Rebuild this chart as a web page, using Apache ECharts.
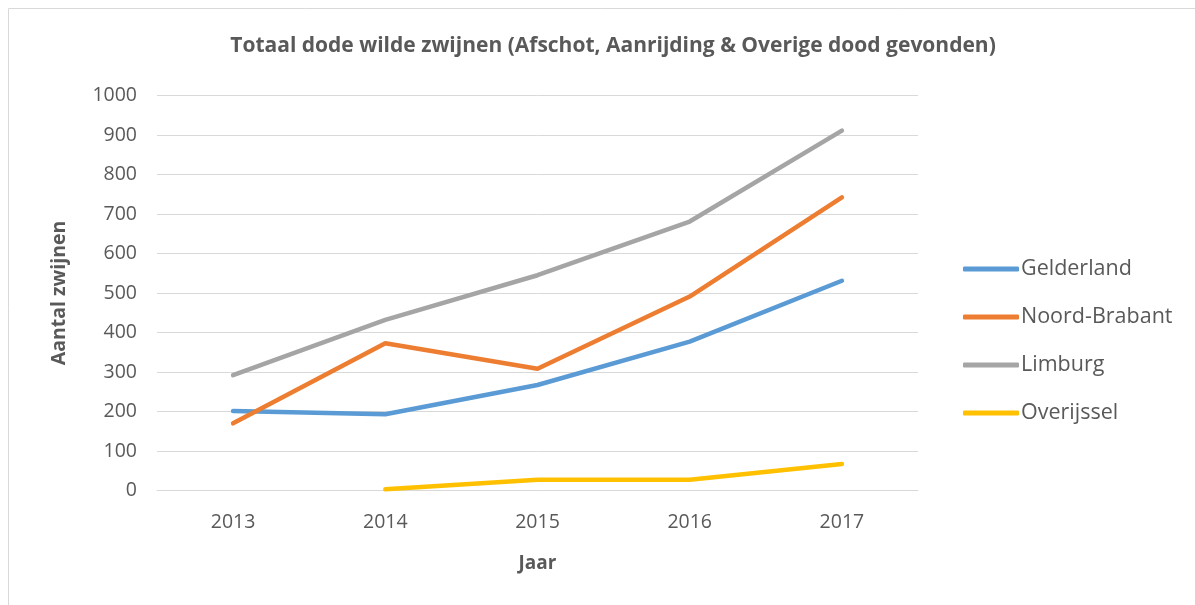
<!DOCTYPE html>
<html>
<head>
<meta charset="utf-8">
<script src="https://cdn.jsdelivr.net/npm/echarts@6/dist/echarts.min.js"></script>
<style>html,body{margin:0;padding:0;background:#fff;}#c{width:1195px;height:605px;}</style>
</head>
<body>
<div id="c"></div>
<script>
const years = ['2013', '2014', '2015', '2016', '2017'];
const gelderland = [201, 193, 267, 377, 531];
const noordBrabant = [170, 373, 308, 491, 742];
const limburg = [292, 432, 545, 681, 911];
const overijssel = [null, 3, 27, 27, 67];
const yTicks = [0, 1000, 100];

const chart = echarts.init(document.getElementById('c'));
const font = '"Open Sans", "Liberation Sans", sans-serif';
function mk(name, data, color) {
  return {
    name: name, type: 'line', data: data, symbol: 'none',
    lineStyle: { width: 4.5, color: color, cap: 'round', join: 'round' },
    itemStyle: { color: color },
    connectNulls: false, silent: true
  };
}
chart.setOption({
  animation: false,
  backgroundColor: '#fff',
  graphic: [{
    type: 'rect', shape: { x: 8.5, y: 8.5, width: 1200, height: 620 },
    style: { fill: 'none', stroke: '#d9d9d9', lineWidth: 1 }, silent: true
  }],
  title: {
    text: 'Totaal dode wilde zwijnen (Afschot, Aanrijding & Overige dood gevonden)',
    left: 608, top: 31, textAlign: 'center',
    textStyle: { fontFamily: font, fontWeight: 'bold', fontSize: 21, color: '#595959' }
  },
  legend: {
    orient: 'vertical', left: 958, top: 253,
    itemWidth: 56, itemHeight: 5, itemGap: 26,
    icon: 'roundRect',
    textStyle: { fontFamily: font, fontSize: 21.5, color: '#595959', padding: [0, 0, 0, -3] },
    data: ['Gelderland', 'Noord-Brabant', 'Limburg', 'Overijssel']
  },
  grid: { left: 157, right: 277, top: 95.5, bottom: 114.5, containLabel: false },
  xAxis: {
    type: 'category', data: years, boundaryGap: true,
    name: 'Jaar', nameLocation: 'middle', nameGap: 64,
    nameTextStyle: { fontFamily: font, fontWeight: 'bold', fontSize: 19, color: '#595959' },
    axisLine: { show: true, lineStyle: { color: '#d9d9d9', width: 1 } },
    axisTick: { show: false },
    axisLabel: { fontFamily: font, fontSize: 19.5, color: '#595959', margin: 22 }
  },
  yAxis: {
    type: 'value', min: yTicks[0], max: yTicks[1], interval: yTicks[2],
    name: 'Aantal zwijnen', nameLocation: 'middle', nameGap: 88, nameRotate: 90,
    nameTextStyle: { fontFamily: font, fontWeight: 'bold', fontSize: 19.5, color: '#595959' },
    axisLine: { show: false }, axisTick: { show: false },
    axisLabel: { fontFamily: font, fontSize: 19.5, color: '#595959', margin: 20, formatter: function (v) { return String(v); } },
    splitLine: { lineStyle: { color: '#d9d9d9', width: 1 } }
  },
  series: [
    mk('Gelderland', gelderland, '#5B9BD5'),
    mk('Noord-Brabant', noordBrabant, '#ED7D31'),
    mk('Limburg', limburg, '#A5A5A5'),
    mk('Overijssel', overijssel, '#FFC000')
  ]
});
</script>
</body>
</html>
